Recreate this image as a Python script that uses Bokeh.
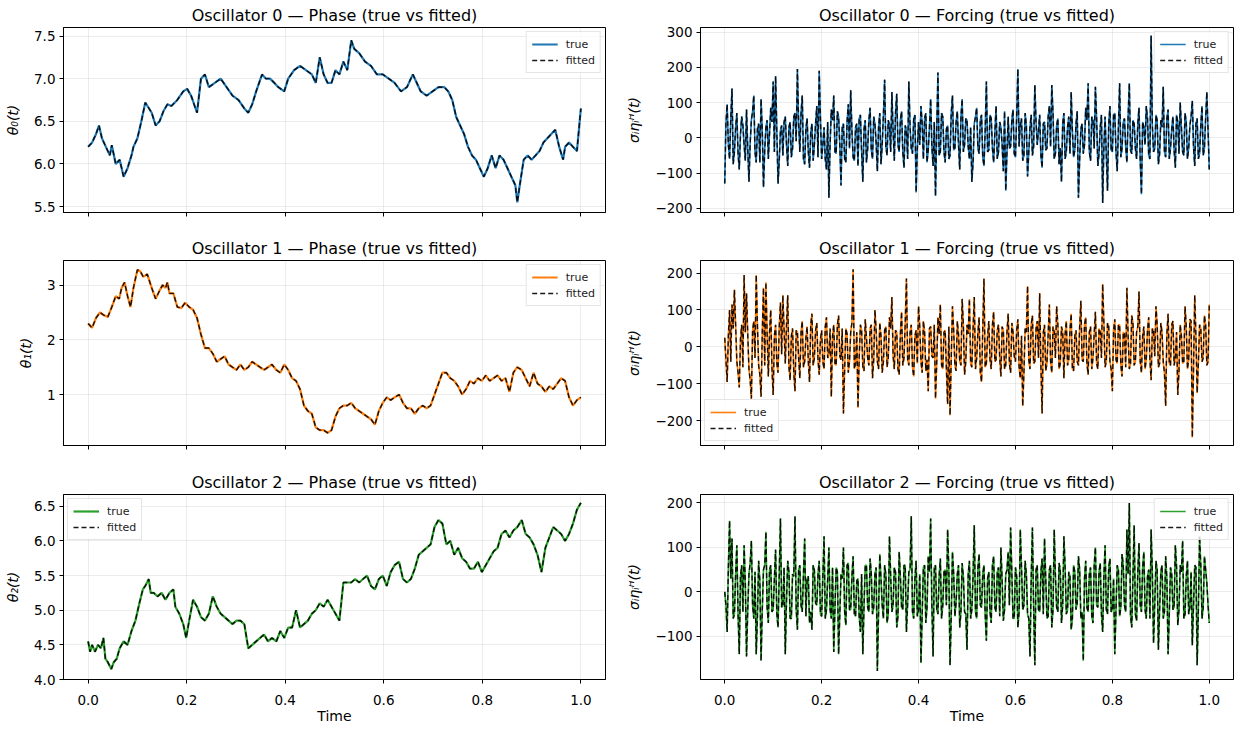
from bokeh.plotting import figure
from bokeh.layouts import column, row
from bokeh.models import FixedTicker, CustomJSTickFormatter, Range1d
from bokeh.embed import file_html
from bokeh.resources import INLINE

# ---------------- data ----------------
# phase of oscillator 0: (time, value); fitted curve coincides with the true one
phase0_points = [
    (0.000, 6.20), (0.008, 6.25), (0.016, 6.35), (0.022, 6.45), (0.028, 6.30), (0.036, 6.20),
    (0.044, 6.10), (0.048, 6.22), (0.056, 6.00), (0.064, 6.05), (0.072, 5.85), (0.080, 5.95),
    (0.088, 6.10), (0.092, 6.20), (0.100, 6.30), (0.108, 6.50), (0.116, 6.72), (0.129, 6.60),
    (0.137, 6.45), (0.145, 6.50), (0.153, 6.62), (0.161, 6.70), (0.169, 6.68), (0.181, 6.75),
    (0.193, 6.85), (0.201, 6.88), (0.209, 6.80), (0.221, 6.60), (0.229, 7.00), (0.237, 7.05),
    (0.245, 6.90), (0.257, 6.95), (0.269, 7.00), (0.281, 6.90), (0.293, 6.80), (0.305, 6.75),
    (0.317, 6.65), (0.325, 6.60), (0.333, 6.70), (0.341, 6.85), (0.353, 7.05), (0.361, 7.00),
    (0.369, 7.00), (0.378, 6.95), (0.386, 6.90), (0.398, 6.85), (0.406, 7.00), (0.418, 7.10),
    (0.430, 7.15), (0.442, 7.10), (0.454, 7.05), (0.462, 6.95), (0.470, 7.25), (0.478, 7.05),
    (0.486, 6.95), (0.494, 6.95), (0.502, 7.10), (0.510, 7.05), (0.518, 7.20), (0.526, 7.10),
    (0.534, 7.45), (0.540, 7.35), (0.550, 7.30), (0.562, 7.20), (0.574, 7.15), (0.586, 7.05),
    (0.598, 7.05), (0.610, 7.00), (0.622, 6.95), (0.635, 6.85), (0.647, 6.90), (0.659, 7.05),
    (0.667, 6.95), (0.675, 6.85), (0.687, 6.80), (0.699, 6.85), (0.711, 6.90), (0.723, 6.90),
    (0.731, 6.85), (0.739, 6.75), (0.747, 6.55), (0.755, 6.45), (0.763, 6.35), (0.771, 6.20),
    (0.779, 6.10), (0.787, 6.05), (0.795, 5.95), (0.803, 5.85), (0.811, 5.95), (0.819, 6.10),
    (0.827, 5.95), (0.835, 6.10), (0.843, 6.05), (0.851, 5.95), (0.859, 5.85), (0.867, 5.75),
    (0.871, 5.55), (0.876, 5.75), (0.884, 6.05), (0.892, 6.10), (0.900, 6.05), (0.908, 6.10),
    (0.916, 6.15), (0.924, 6.25), (0.932, 6.30), (0.940, 6.35), (0.948, 6.40), (0.956, 6.20),
    (0.964, 6.05), (0.968, 6.20), (0.976, 6.25), (0.984, 6.20), (0.992, 6.15), (0.996, 6.40),
    (1.000, 6.65),
]

phase1_points = [
    (0.000, 2.30), (0.008, 2.22), (0.016, 2.40), (0.024, 2.50), (0.032, 2.45), (0.040, 2.42),
    (0.048, 2.60), (0.056, 2.80), (0.063, 2.75), (0.068, 2.95), (0.074, 3.05), (0.080, 2.80),
    (0.086, 2.60), (0.092, 2.95), (0.100, 3.28), (0.106, 3.25), (0.112, 3.15), (0.120, 3.20),
    (0.129, 2.95), (0.137, 2.75), (0.145, 2.90), (0.151, 3.00), (0.157, 2.95), (0.161, 3.05),
    (0.165, 2.85), (0.173, 2.85), (0.181, 2.60), (0.189, 2.58), (0.197, 2.68), (0.205, 2.60),
    (0.213, 2.55), (0.221, 2.40), (0.229, 2.10), (0.237, 1.85), (0.245, 1.85), (0.253, 1.75),
    (0.261, 1.60), (0.269, 1.65), (0.277, 1.70), (0.285, 1.55), (0.293, 1.50), (0.301, 1.45),
    (0.309, 1.55), (0.317, 1.45), (0.325, 1.50), (0.333, 1.60), (0.341, 1.55), (0.349, 1.50),
    (0.357, 1.45), (0.365, 1.50), (0.373, 1.55), (0.382, 1.45), (0.390, 1.40), (0.398, 1.55),
    (0.406, 1.45), (0.414, 1.30), (0.422, 1.25), (0.430, 1.10), (0.438, 0.80), (0.446, 0.70),
    (0.454, 0.65), (0.462, 0.40), (0.470, 0.35), (0.478, 0.35), (0.486, 0.30), (0.494, 0.35),
    (0.502, 0.60), (0.510, 0.75), (0.518, 0.80), (0.526, 0.80), (0.534, 0.85), (0.542, 0.75),
    (0.550, 0.70), (0.558, 0.65), (0.566, 0.60), (0.574, 0.55), (0.582, 0.45), (0.590, 0.70),
    (0.598, 0.85), (0.606, 0.95), (0.614, 0.90), (0.622, 0.95), (0.631, 1.00), (0.639, 0.85),
    (0.647, 0.75), (0.655, 0.75), (0.663, 0.65), (0.671, 0.75), (0.679, 0.80), (0.687, 0.75),
    (0.695, 0.80), (0.703, 1.00), (0.711, 1.20), (0.719, 1.40), (0.727, 1.40), (0.735, 1.30),
    (0.743, 1.25), (0.751, 1.15), (0.759, 1.00), (0.767, 1.10), (0.775, 1.25), (0.783, 1.20),
    (0.791, 1.30), (0.799, 1.25), (0.807, 1.35), (0.815, 1.25), (0.823, 1.30), (0.831, 1.35),
    (0.839, 1.25), (0.847, 1.30), (0.855, 1.05), (0.863, 1.40), (0.871, 1.50), (0.880, 1.45),
    (0.888, 1.30), (0.896, 1.15), (0.904, 1.40), (0.912, 1.20), (0.920, 1.15), (0.928, 1.05),
    (0.936, 1.15), (0.944, 1.10), (0.952, 1.20), (0.960, 1.30), (0.968, 1.25), (0.976, 0.95),
    (0.984, 0.80), (0.992, 0.90), (1.000, 0.95),
]

phase2_points = [
    (0.000, 4.55), (0.004, 4.40), (0.008, 4.50), (0.014, 4.40), (0.020, 4.50), (0.026, 4.45),
    (0.031, 4.60), (0.035, 4.30), (0.040, 4.25), (0.047, 4.15), (0.052, 4.25), (0.058, 4.30),
    (0.064, 4.45), (0.072, 4.55), (0.080, 4.50), (0.088, 4.70), (0.096, 4.85), (0.104, 5.10),
    (0.111, 5.30), (0.116, 5.35), (0.123, 5.45), (0.127, 5.25), (0.133, 5.25), (0.141, 5.20),
    (0.149, 5.25), (0.157, 5.15), (0.165, 5.25), (0.173, 5.30), (0.177, 5.05), (0.185, 4.95),
    (0.193, 4.80), (0.199, 4.60), (0.205, 4.85), (0.213, 5.15), (0.221, 5.05), (0.229, 4.90),
    (0.237, 4.85), (0.245, 4.95), (0.253, 5.20), (0.261, 5.05), (0.269, 4.95), (0.277, 4.90),
    (0.285, 4.85), (0.293, 4.80), (0.301, 4.85), (0.309, 4.85), (0.317, 4.80), (0.325, 4.45),
    (0.333, 4.50), (0.341, 4.55), (0.349, 4.60), (0.357, 4.65), (0.365, 4.55), (0.373, 4.60),
    (0.382, 4.55), (0.390, 4.70), (0.398, 4.60), (0.406, 4.75), (0.414, 4.75), (0.422, 5.00),
    (0.430, 4.75), (0.438, 4.80), (0.446, 4.85), (0.454, 4.95), (0.462, 5.00), (0.470, 5.10),
    (0.478, 5.05), (0.486, 5.15), (0.494, 5.05), (0.502, 4.95), (0.510, 4.85), (0.518, 5.40),
    (0.526, 5.40), (0.534, 5.40), (0.542, 5.45), (0.550, 5.40), (0.558, 5.45), (0.566, 5.50),
    (0.574, 5.35), (0.582, 5.30), (0.590, 5.45), (0.598, 5.50), (0.606, 5.35), (0.614, 5.55),
    (0.622, 5.65), (0.631, 5.70), (0.639, 5.45), (0.647, 5.40), (0.655, 5.45), (0.663, 5.60),
    (0.671, 5.80), (0.679, 5.85), (0.687, 5.90), (0.695, 5.95), (0.703, 6.20), (0.711, 6.30),
    (0.719, 6.25), (0.727, 5.95), (0.735, 6.00), (0.743, 5.80), (0.751, 5.90), (0.759, 5.75),
    (0.767, 5.70), (0.775, 5.60), (0.783, 5.60), (0.791, 5.70), (0.799, 5.55), (0.807, 5.65),
    (0.815, 5.75), (0.823, 5.85), (0.831, 5.90), (0.839, 6.10), (0.847, 6.15), (0.855, 6.05),
    (0.863, 6.15), (0.871, 6.20), (0.880, 6.30), (0.888, 6.10), (0.896, 6.05), (0.904, 5.95),
    (0.912, 5.80), (0.920, 5.55), (0.928, 5.90), (0.936, 6.05), (0.944, 6.20), (0.952, 6.15),
    (0.960, 6.10), (0.968, 6.00), (0.976, 6.10), (0.984, 6.25), (0.992, 6.45), (1.000, 6.55),
]

# forcing: values at t = k/200 (k = 0..200) ...
forcing0_main = [
    -130, 95, -60, 140, -40, 70, -90, 60, -20, 80,
    -125, 50, 120, -70, 40, 110, -140, 30, -60, 85,
    160, 175, -130, 20, -50, 60, -80, 45, -30, 70,
    195, -40, 120, -75, 55, -85, 40, -20, 90, 190,
    -60, 30, -90, -170, 80, 120, -45, 60, -135, 40,
    -70, 95, 135, -55, 30, -80, 65, -125, 50, -30,
    85, -60, 40, -95, 70, -20, 165, -50, 35, 130,
    -65, 125, -40, 75, -85, 20, 160, -30, 55, -155,
    45, 90, -60, 70, -35, 110, -80, -165, 185, -40,
    60, -70, 35, -50, 120, -30, 75, -90, 110, -20,
    50, -60, -125, 40, 85, -45, 65, -80, 160, -35,
    55, -70, 90, -40, 30, -95, -150, 60, -25, 80,
    -55, 195, 40, -65, 70, -110, 30, -50, 150, -20,
    65, -85, 45, -30, 90, 150, -60, 35, -75, -125,
    70, -40, 60, 130, -55, 40, -170, 25, -45, 85,
    155, -65, 50, 145, -80, 30, -185, 60, -150, 90,
    -40, 70, -95, 155, -30, 55, -70, 155, -45, 40,
    -60, 85, -160, 30, 90, -50, 290, -40, 65, -75,
    50, 145, -55, 80, -30, 60, -85, 45, 100, -40,
    70, -60, 35, 105, -80, 55, -45, 90, -30, 130,
    -90,
]
# ... and in between, at t = (k + 0.5)/200 (k = 0..199)
forcing0_mid = [
    40, -20, 55, -75, 30, -45, 10, 35, -65, -30,
    -15, 75, -40, 25, -70, 20, -35, 50, 15, 45,
    -40, 20, -65, 35, 45, -20, 30, -55, 60, -10,
    45, 70, -60, 25, -40, 15, -65, 40, -55, 55,
    -20, -60, 45, -15, 50, -40, 75, -20, 30, -60,
    45, -30, 20, -65, 40, 55, -40, 25, -70, 50,
    -35, 60, -15, 30, -75, 65, -25, 50, -40, 20,
    70, -20, 50, -40, 35, -60, 30, -45, 65, -30,
    -20, 40, 55, -70, 30, -25, 45, 20, -50, 70,
    -40, 25, -60, 70, -35, 45, -20, 60, -40, 55,
    -25, 30, -70, 60, -30, 50, -55, 20, -40, 65,
    -30, 15, -60, 45, -20, 75, -40, -30, 50, -45,
    60, -25, 55, -50, 35, -40, 65, -25, 45, 20,
    -50, 40, -35, 60, -25, 70, -45, 55, -30, 40,
    -60, 30, -45, 20, -35, 75, -60, 40, -20, 50,
    -40, 60, -30, 55, -45, 65, -25, -50, 40, -35,
    65, -40, 30, -55, 45, -25, 60, -35, 50, -30,
    40, -65, 45, -20, 55, -60, 35, -30, 50, -45,
    30, -40, 55, -60, 25, -35, 65, -45, 30, -50,
    45, -30, 60, -25, 40, -60, 35, -50, 55, 20,
]

forcing1_main = [
    25, -95, 100, 115, 155, -40, -110, 60, 195, 145,
    -60, -140, 70, 195, -50, -135, 160, 175, -80, 100,
    -130, 60, -70, 120, 140, -45, 140, -90, 50, -120,
    40, -85, 70, -40, 55, -95, 90, -30, 65, -75,
    45, -60, 80, -20, -135, 60, -50, 85, -35, -180,
    50, -70, 40, 210, -45, -165, 60, -55, 75, -30,
    50, -85, 100, -40, 65, -70, 45, -55, 80, 135,
    -60, 40, -75, 95, -30, 185, -50, 60, -80, 45,
    110, -40, 70, -65, -120, 55, -30, -140, 80, 115,
    -60, 45, -155, -185, 110, -50, 70, -40, 130, -75,
    60, 130, -55, 135, -30, 80, -95, 185, -45, 70,
    -60, 95, -35, 60, -80, 45, -50, 90, -70, 40,
    -40, 75, -85, -160, 50, 165, -60, 85, -40, 70,
    145, -180, 60, -45, 115, -70, 40, 110, -60, 55,
    -85, 70, -35, 90, -65, 45, -50, 125, -40, 80,
    -75, 55, -30, 95, -60, 40, 170, -55, 65, -40,
    -120, 75, -45, 60, -80, 35, 160, -60, 85, -50,
    40, 150, -70, 55, -35, 80, -90, 45, 110, -55,
    65, -40, -160, 90, -50, 70, -30, -130, 60, -45,
    110, -60, 75, -245, 140, -125, 60, -40, 85, -50,
    115,
]
forcing1_mid = [
    -35, 30, -40, 50, 60, -70, 20, -55, 40, 35,
    -90, 45, -30, 60, -75, 40, -50, 35, 40, -60,
    30, -45, 55, -20, 45, 60, -55, 30, -70, 45,
    -30, 40, -55, 25, -40, 60, -50, 45, -35, 20,
    -40, 55, -30, 50, 30, -45, 60, -25, 50, -60,
    35, -40, 65, -60, 40, -30, 45, -65, 25, -50,
    60, -35, 45, -60, 30, -40, 55, -30, 50, -25,
    45, -60, 35, -50, 65, -35, 40, -55, 30, -45,
    55, -70, 40, -35, 50, -25, 60, -45, 35, -50,
    40, -60, 55, -30, 45, -65, 35, -50, 60, -40,
    35, -45, 50, -60, 40, -70, 45, -55, 30, -35,
    60, -40, 45, -30, 55, -60, 40, -45, 65, -25,
    45, -55, 30, -70, 40, -35, 60, -45, 50, -30,
    -50, 40, -65, 35, -40, 55, -30, 60, -45, 40,
    35, -50, 45, -60, 30, -40, 55, -35, 60, -45,
    40, -60, 35, -45, 50, -30, 65, -40, 55, -60,
    45, -35, 60, -50, 40, -55, 30, -45, 65, -40,
    55, -40, 30, -60, 45, -35, 50, -25, 60, -45,
    40, -70, 35, -45, 60, -50, 40, -65, 30, -40,
    55, -35, 70, -60, 25, -45, 50, -30, 60, -40,
]

forcing2_main = [
    0, -90, 160, 120, -50, 105, -140, 60, 105, -145,
    40, 115, -60, -140, 70, -155, 50, 135, -70, 60,
    -40, 95, -80, 165, -30, -140, 70, -60, 40, 170,
    -85, 60, -45, 120, 30, -70, -85, 50, -30, 70,
    -55, 125, -40, 100, -60, -135, 55, -140, 40, 100,
    -75, 65, -40, 80, -55, 30, -90, -140, 60, -35,
    75, -50, 40, -178, 85, -30, 60, -70, 125, -45,
    55, -80, 90, -35, 60, -90, 45, 170, -60, 70,
    -40, -160, 55, -70, 80, 165, -145, 60, -50, 75,
    -30, 50, 140, -165, 90, -55, 40, -80, 65, -45,
    -130, 70, -40, 150, -60, 85, -35, 60, -110, 45,
    -70, 80, -45, 55, 100, -65, 40, 90, 145, -60,
    55, -80, 140, -40, 70, -50, -145, 145, -165, 60,
    -45, 75, 120, -60, 50, -80, 140, -35, 65, -70,
    125, -50, 45, -85, 60, -40, 80, -60, -155, 70,
    -45, 55, -70, 100, -35, 65, -90, 105, -50, 75,
    -40, -140, 60, -55, 85, -30, 140, 200, -80, 150,
    -65, 110, -45, 90, -60, 50, 140, -115, 70, -130,
    45, -60, 80, -140, 55, -40, 105, -75, 60, 115,
    -50, 70, -35, -120, 60, -165, 125, -60, 80, 20,
    -70,
]
forcing2_mid = [
    -30, 55, 30, -60, 40, -50, 35, -45, 20, -40,
    65, -30, 45, -55, 25, -40, 60, -35, 50, -45,
    30, -50, 40, -35, 55, -20, 45, -60, 35, -40,
    50, -30, 40, -55, 35, -45, 60, -25, 40, -50,
    35, -60, 30, -40, 55, -35, 45, -50, 30, -45,
    60, -40, 35, -50, 25, -55, 40, -30, 60, -45,
    40, -35, 55, -45, 30, -60, 40, -50, 35, -30,
    45, -55, 35, -40, 60, -25, 50, -45, 30, -55,
    40, -50, 60, -35, 45, -30, 55, -40, 35, -60,
    45, -30, 50, -55, 40, -25, 60, -45, 35, -50,
    40, -60, 35, -45, 55, -30, 40, -50, 30, -45,
    60, -35, 45, -55, 25, -40, 50, -30, 45, -60,
    35, -45, 55, -30, 40, -60, 30, -35, 50, -40,
    45, -50, 30, -55, 60, -40, 35, -45, 50, -30,
    55, -40, 35, -60, 45, -25, 50, -45, 30, -35,
    40, -55, 60, -30, 45, -50, 35, -40, 55, -45,
    30, -40, 50, -35, 60, -45, 40, -55, 35, -50,
    45, -30, 55, -40, 35, -60, 45, -25, 50, -40,
    60, -45, 30, -50, 40, -35, 55, -40, 45, -60,
    35, -50, 45, -30, 55, -40, 60, -35, 50, -30,
]

x_ticks = [0.0, 0.2, 0.4, 0.6, 0.8, 1.0]
colors = ["#1f77b4", "#ff7f0e", "#2ca02c"]

# ---------------- styling helpers ----------------
FONT = "DejaVu Sans"


def tick_fmt(dec):
    return CustomJSTickFormatter(args=dict(d=dec), code="""
        const s = Math.abs(tick).toFixed(d);
        return (tick < -1e-9 ? "\u2212" : "") + s;
    """)


def interleave(main, mid):
    vals = []
    for k in range(len(mid)):
        vals.append(main[k])
        vals.append(mid[k])
    vals.append(main[-1])
    times = [i / (2 * len(mid)) for i in range(len(vals))]
    return times, vals


def make_panel(title, ylabel, yr, yticks, ydec, t, v, color, legend_loc,
               left_col, row_idx, true_width):
    if left_col:
        fw, bl, br = 542, 63, 10
    else:
        fw, bl, br = 533, 85, 2
    bt = [27, 23, 22][row_idx]
    bb = [22, 23, 44][row_idx]
    p = figure(frame_width=fw, frame_height=185,
               x_range=Range1d(-0.05, 1.05), y_range=Range1d(*yr),
               output_backend="svg", toolbar_location=None,
               min_border_left=bl, min_border_right=br,
               min_border_top=bt, min_border_bottom=bb,
               background_fill_color="white", border_fill_color="white")
    p.title.text = title
    p.title.align = "center"
    p.title.text_font = FONT
    p.title.text_font_size = "16px"
    p.title.text_font_style = "normal"
    p.title.text_color = "black"
    p.title.standoff = 5

    p.line(t, v, line_color=color, line_width=true_width, legend_label="true")
    p.line(t, v, line_color="black", line_width=1.4, line_dash="5 3",
           line_alpha=0.9, legend_label="fitted")

    p.xaxis.ticker = FixedTicker(ticks=x_ticks)
    p.yaxis.ticker = FixedTicker(ticks=yticks)
    p.xgrid.ticker = FixedTicker(ticks=x_ticks)
    p.ygrid.ticker = FixedTicker(ticks=yticks)
    p.yaxis.formatter = tick_fmt(ydec)
    if row_idx == 2:
        p.xaxis.formatter = tick_fmt(1)
        p.xaxis.axis_label = "Time"
    else:
        p.xaxis.formatter = CustomJSTickFormatter(code='return "";')

    for ax in (p.xaxis[0], p.yaxis[0]):
        ax.major_label_text_font = FONT
        ax.major_label_text_font_size = "13.5px"
        ax.major_label_text_color = "black"
        ax.axis_label_text_font = FONT
        ax.axis_label_text_font_size = "14px"
        ax.axis_label_text_color = "black"
        ax.axis_line_color = "black"
        ax.major_tick_line_color = "black"
        ax.major_tick_in = 0
        ax.major_tick_out = 4
        ax.minor_tick_in = 0
        ax.minor_tick_out = 0
        ax.minor_tick_line_color = None
    p.xaxis.major_label_standoff = 11
    p.xaxis.axis_label_standoff = 0
    p.xaxis.axis_label_text_font_style = "normal"
    p.yaxis.major_label_standoff = 4
    p.yaxis.axis_label = ylabel
    p.yaxis.axis_label_standoff = 10
    p.yaxis.axis_label_text_font_style = "italic"

    p.grid.grid_line_color = "#b0b0b0"
    p.grid.grid_line_alpha = 0.3
    p.grid.grid_line_width = 0.8
    p.outline_line_color = "black"
    p.outline_line_width = 1
    p.outline_line_alpha = 1

    lg = p.legend[0]
    lg.location = legend_loc
    lg.label_text_font = FONT
    lg.label_text_font_size = "11px"
    lg.label_text_color = "#222222"
    lg.border_line_color = "#cccccc"
    lg.border_line_width = 1
    lg.background_fill_color = "white"
    lg.background_fill_alpha = 0.8
    lg.glyph_width = 26
    lg.glyph_height = 14
    lg.label_height = 14
    lg.label_standoff = 8
    lg.spacing = 2
    lg.padding = 5
    lg.margin = 4
    return p


def unzip(points):
    return [a for a, _ in points], [b for _, b in points]


t0, v0 = unzip(phase0_points)
t1, v1 = unzip(phase1_points)
t2, v2 = unzip(phase2_points)
ft0, f0 = interleave(forcing0_main, forcing0_mid)
ft1, f1 = interleave(forcing1_main, forcing1_mid)
ft2, f2 = interleave(forcing2_main, forcing2_mid)

forcing_ticks = [-200, -100, 0, 100, 200, 300]
forcing_label = "σᵢηᵢᴴ(t)"

p00 = make_panel("Oscillator 0 — Phase (true vs fitted)", "θ₀(t)", (5.43, 7.6),
                 [5.5, 6.0, 6.5, 7.0, 7.5], 1, t0, v0, colors[0], "top_right", True, 0, 2.2)
p01 = make_panel("Oscillator 0 — Forcing (true vs fitted)", forcing_label, (-212, 313),
                 forcing_ticks, 0, ft0, f0, colors[0], "top_right", False, 0, 1.6)
p10 = make_panel("Oscillator 1 — Phase (true vs fitted)", "θ₁(t)", (0.07, 3.45),
                 [1, 2, 3], 0, t1, v1, colors[1], "top_right", True, 1, 2.2)
p11 = make_panel("Oscillator 1 — Forcing (true vs fitted)", forcing_label, (-267, 234),
                 forcing_ticks, 0, ft1, f1, colors[1], "bottom_left", False, 1, 1.6)
p20 = make_panel("Oscillator 2 — Phase (true vs fitted)", "θ₂(t)", (4.0, 6.67),
                 [4.0, 4.5, 5.0, 5.5, 6.0, 6.5], 1, t2, v2, colors[2], "top_left", True, 2, 2.2)
p21 = make_panel("Oscillator 2 — Forcing (true vs fitted)", forcing_label, (-197, 219),
                 forcing_ticks, 0, ft2, f2, colors[2], "top_right", False, 2, 1.6)

layout = column(row(p00, p01), row(p10, p11), row(p20, p21))

with open("out.html", "w") as f:
    f.write(file_html(layout, INLINE))
